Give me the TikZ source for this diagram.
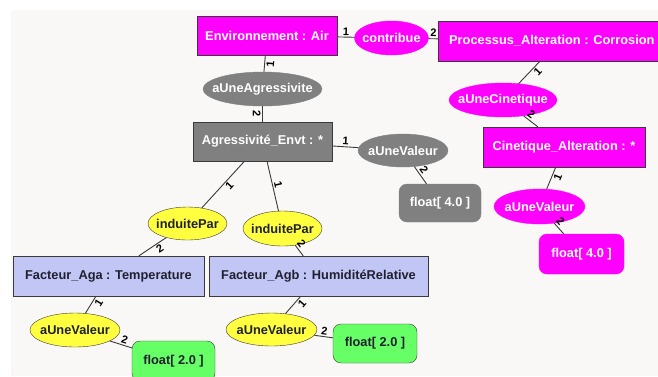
\documentclass[tikz,border=0pt]{standalone}
\usepackage{fontspec}
\setmainfont{Liberation Sans}
\usepackage{tikz}
\usetikzlibrary{shapes.geometric}
\definecolor{bgc}{HTML}{F9F8F6}
\definecolor{linec}{HTML}{3A3A3A}
\definecolor{magc}{HTML}{FF00FF}
\definecolor{grayc}{HTML}{808080}
\definecolor{bluec}{HTML}{C2C6F4}
\definecolor{yelc}{HTML}{FFFF40}
\definecolor{greenc}{HTML}{66FF66}
\definecolor{txtc}{HTML}{202030}

\begin{document}
\begin{tikzpicture}[x=1pt,y=-1pt,
      every node/.style={font=\fontsize{12.8}{15}\selectfont\bfseries},
      cls/.style={draw=linec,rectangle,inner sep=0pt,minimum height=39pt},
      rel/.style={ellipse,inner sep=0pt,minimum height=34pt,
                  execute at begin node={\hbox to 0pt\bgroup\hss},
                  execute at end node={\hss\egroup}},
      val/.style={rectangle,rounded corners=8pt,inner sep=0pt,minimum height=39pt},
      magcls/.style={cls,fill=magc,text=white},
      graycls/.style={cls,fill=grayc,text=white},
      bluecls/.style={cls,fill=bluec,text=txtc},
      magrel/.style={rel,fill=magc,draw=magc,text=white},
      grayrel/.style={rel,fill=grayc,draw=grayc,text=white},
      yelrel/.style={rel,fill=yelc,draw=linec,text=txtc},
      magval/.style={val,fill=magc,draw=magc,text=white},
      grayval/.style={val,fill=grayc,draw=grayc,text=white},
      greenval/.style={val,fill=greenc,draw=linec,text=txtc},
      lnk/.style={draw=linec,line width=0.9pt},
      card/.style={font=\fontsize{11}{12}\selectfont\bfseries,text=black,
                   sloped,inner sep=1.5pt}]
    \clip (0,0) rectangle (658,376);
    \fill[white] (0,0) rectangle (658,376);
    \fill[bgc] (11,10) rectangle (658,376);

    % top row
    \node[magcls,minimum width=140pt] (env) at (267,35.5) {Environnement : Air};
    \node[magrel,minimum width=74pt] (contrib) at (391.5,38) {contribue};
    \node[magcls,anchor=west,inner xsep=11pt,text width=220pt,align=flush left,
          minimum height=40pt] (proc) at (438,41)
      {Processus\_Alteration : Corrosion};

    % aggressivity branch
    \node[grayrel,minimum width=119pt] (agress) at (262.5,89) {aUneAgressivite};
    \node[graycls,minimum width=139pt] (agrenv) at (262.5,141.5) {Agressivité\_Envt : *};
    \node[grayrel,minimum width=90pt,minimum height=33pt] (valg) at (403,150.5) {aUneValeur};
    \node[grayval,minimum width=82pt,minimum height=38pt] (floatg) at (440,203) {float[ 4.0 ]};

    % kinetics branch
    \node[magrel,minimum width=108pt] (cinet) at (503,100) {aUneCinetique};
    \node[magcls,minimum width=162pt,minimum height=40pt] (cinalt) at (564,147)
      {Cinetique\_Alteration : *};
    \node[magrel,minimum width=91pt,minimum height=35pt] (valm) at (539.5,206.5) {aUneValeur};
    \node[magval,minimum width=85pt,minimum height=40pt] (floatm) at (581.5,254) {float[ 4.0 ]};

    % factors
    \node[yelrel,minimum width=79pt,minimum height=33pt] (indA) at (187.5,223.5) {induitePar};
    \node[yelrel,minimum width=79pt,minimum height=35pt] (indB) at (282.5,228.5) {induitePar};
    \node[bluecls,minimum width=191pt,minimum height=40pt] (aga) at (108.5,276)
      {Facteur\_Aga : Temperature};
    \node[bluecls,minimum width=219pt,minimum height=40pt] (agb) at (318.5,276)
      {Facteur\_Agb : HumiditéRelative};
    \node[yelrel,minimum width=90pt] (valA) at (75,330) {aUneValeur};
    \node[yelrel,minimum width=91pt,minimum height=33pt] (valB) at (271.5,329.5) {aUneValeur};
    \node[greenval,minimum width=83pt,minimum height=40pt] (floatA) at (173.5,361) {float[ 2.0 ]};
    \node[greenval,minimum width=84pt] (floatB) at (375,343.5) {float[ 2.0 ]};

    % links
    \path[lnk] (env) -- node[card,auto] {1} (contrib);
    \path[lnk] (contrib) -- node[card,auto] {2} (proc);
    \path[lnk] (env) -- node[card,auto,swap] {1} (agress);
    \path[lnk] (agress) -- node[card,auto,swap] {2} (agrenv);
    \path[lnk] (agrenv) -- node[card,auto] {1} (valg);
    \path[lnk] (valg) -- node[card,auto,pos=0.4] {2} (floatg);
    \path[lnk] (proc) -- node[card,auto,swap,pos=0.3] {1} (cinet);
    \path[lnk] (cinet) -- node[card,auto,pos=0.3] {2} (cinalt);
    \path[lnk] (cinalt) -- node[card,auto,swap,pos=0.35] {1} (valm);
    \path[lnk] (valm) -- node[card,auto,pos=0.2] {2} (floatm);
    \path[lnk] (agrenv) -- node[card,auto,swap,pos=0.45] {1} (indA);
    \path[lnk] (agrenv) -- node[card,auto,pos=0.5] {1} (indB);
    \path[lnk] (indA) -- node[card,auto,swap,pos=0.35] {2} (aga);
    \path[lnk] (indB) -- node[card,auto,pos=0.2] {2} (agb);
    \path[lnk] (aga) -- node[card,auto,swap,pos=0.2] {1} (valA);
    \path[lnk] (valA) -- node[card,auto,pos=0.6] {2} (floatA);
    \path[lnk] (agb) -- node[card,auto,swap,pos=0.2] {1} (valB);
    \path[lnk] (valB) -- node[card,auto,pos=0.5] {2} (floatB);
  \end{tikzpicture}
\end{document}
